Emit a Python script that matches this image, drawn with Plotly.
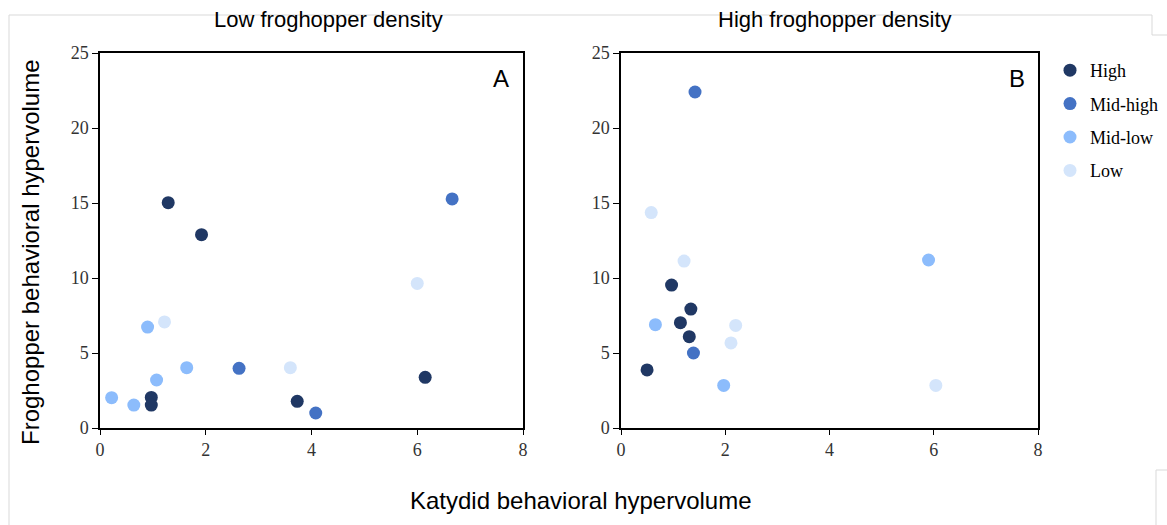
import plotly.graph_objects as go

groups = ["High", "Mid-high", "Mid-low", "Low"]
colors = {"High": "#203864", "Mid-high": "#4472c4", "Mid-low": "#8cbcfc", "Low": "#d4e5fb"}

# Panel A: Low froghopper density
a_x = {
    "High": [1.29, 1.92, 0.97, 0.97, 3.73, 6.15],
    "Mid-high": [6.66, 2.63, 4.08],
    "Mid-low": [0.90, 0.22, 0.64, 1.07, 1.64],
    "Low": [1.22, 3.60, 6.00],
}
a_y = {
    "High": [15.02, 12.89, 2.04, 1.53, 1.78, 3.38],
    "Mid-high": [15.27, 3.98, 1.00],
    "Mid-low": [6.73, 2.02, 1.53, 3.20, 4.02],
    "Low": [7.07, 4.02, 9.64],
}
# Panel B: High froghopper density
b_x = {
    "High": [0.97, 1.34, 1.14, 1.31, 0.50],
    "Mid-high": [1.42, 1.39],
    "Mid-low": [0.66, 1.97, 5.90],
    "Low": [0.58, 1.21, 2.20, 2.11, 6.04],
}
b_y = {
    "High": [9.53, 7.93, 7.02, 6.09, 3.87],
    "Mid-high": [22.40, 5.00],
    "Mid-low": [6.89, 2.84, 11.20],
    "Low": [14.36, 11.13, 6.84, 5.67, 2.84],
}

x_ticks = [0, 2, 4, 6, 8]
y_ticks = [0, 5, 10, 15, 20, 25]

W, H = 1167, 525
fig = go.Figure()

for g in groups:
    fig.add_trace(go.Scatter(x=a_x[g], y=a_y[g], mode="markers", name=g, legendgroup=g,
                             marker=dict(color=colors[g], size=13, line=dict(width=0)),
                             xaxis="x", yaxis="y", showlegend=True))
for g in groups:
    fig.add_trace(go.Scatter(x=b_x[g], y=b_y[g], mode="markers", name=g, legendgroup=g,
                             marker=dict(color=colors[g], size=13, line=dict(width=0)),
                             xaxis="x2", yaxis="y2", showlegend=False))

def px(v):
    return v / W

def py(v):
    return 1 - v / H

tick_font = dict(family="Liberation Serif", size=18, color="#333")
ax_common = dict(range=[0, 8], tickvals=x_ticks, showgrid=False, zeroline=False,
                 showline=True, linecolor="black", linewidth=1.5, mirror=True,
                 ticks="outside", ticklen=5, tickcolor="black",
                 tickfont=tick_font, fixedrange=True)
ay_common = dict(range=[0, 25], tickvals=y_ticks, showgrid=False, zeroline=False,
                 showline=True, linecolor="black", linewidth=1.5, mirror=True,
                 ticks="outside", ticklen=6, tickcolor="black",
                 tickfont=tick_font,
                 domain=[py(428), py(53)], fixedrange=True)

fig.update_layout(
    width=W, height=H,
    margin=dict(l=0, r=0, t=0, b=0, autoexpand=False),
    paper_bgcolor="white", plot_bgcolor="white",
    xaxis=dict(ax_common, domain=[px(100), px(523)], anchor="y"),
    yaxis=dict(ay_common, anchor="x"),
    xaxis2=dict(ax_common, domain=[px(621), px(1038)], anchor="y2"),
    yaxis2=dict(ay_common, anchor="x2"),
    legend=dict(x=px(1050), y=py(52), xanchor="left", yanchor="top",
                font=dict(family="Liberation Serif", size=18, color="black"),
                traceorder="grouped", tracegroupgap=7, itemwidth=30,
                bgcolor="rgba(0,0,0,0)"),
    showlegend=True,
)

ann = [
    dict(text="Low froghopper density", x=px(329), y=py(19), font=dict(size=22)),
    dict(text="High froghopper density", x=px(835), y=py(19), font=dict(size=22)),
    dict(text="A", x=px(501), y=py(78), font=dict(size=24)),
    dict(text="B", x=px(1017), y=py(78), font=dict(size=24)),
    dict(text="Katydid behavioral hypervolume", x=px(581), y=py(500), font=dict(size=24)),
    dict(text="Froghopper behavioral hypervolume", x=px(30), y=py(252), font=dict(size=24), textangle=-90),
]
for a in ann:
    f = dict(family="Liberation Sans", color="black")
    f.update(a.pop("font"))
    fig.add_annotation(xref="paper", yref="paper", xanchor="center", yanchor="middle",
                       showarrow=False, font=f, **a)

# faint frame lines of the original screenshot
line_style = dict(color="#d9d9d9", width=1)
for x0, y0, x1, y1 in [(9, 15, 1152, 15), (9, 15, 9, 525), (1152, 15, 1152, 35),
                       (1152, 35, 1167, 35), (1156, 470, 1167, 470), (1156, 470, 1156, 525)]:
    fig.add_shape(type="line", xref="paper", yref="paper", x0=px(x0), y0=py(y0),
                  x1=px(x1), y1=py(y1), line=line_style, layer="below")

fig.write_html("out.html")
